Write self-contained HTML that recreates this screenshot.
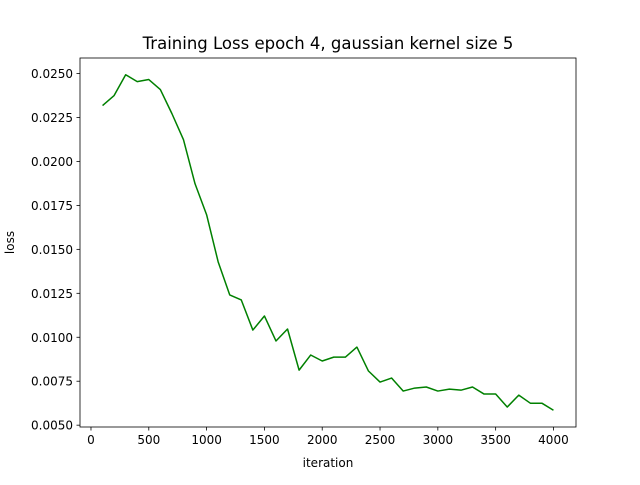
<!DOCTYPE html>
<html><head><meta charset="utf-8"><style>
body{margin:0;background:#fff;}
svg text{font-family:"DejaVu Sans","Liberation Sans",sans-serif;fill:#000;}
</style></head><body>
<svg id="chart" width="640" height="480" xmlns="http://www.w3.org/2000/svg"></svg>
<script>
const iterations=[100,200,300,400,500,600,700,800,900,1000,1100,1200,1300,1400,1500,1600,1700,1800,1900,2000,2100,2200,2300,2400,2500,2600,2700,2800,2900,3000,3100,3200,3300,3400,3500,3600,3700,3800,3900,4000];
const lossValues=[0.02318,0.02375,0.02493,0.02454,0.02466,0.02409,0.02272,0.02124,0.01873,0.01697,0.01429,0.01241,0.01212,0.01041,0.01121,0.00979,0.01047,0.00813,0.00899,0.00865,0.00887,0.00887,0.00944,0.00808,0.00745,0.00768,0.00694,0.00711,0.00717,0.00694,0.00705,0.00699,0.00717,0.00677,0.00677,0.00603,0.00671,0.00625,0.00625,0.00585];
const xTicks=[0,500,1000,1500,2000,2500,3000,3500,4000];
const yTicks=[0.005,0.0075,0.01,0.0125,0.015,0.0175,0.02,0.0225,0.025];

const svg=document.getElementById('chart');
const NS='http://www.w3.org/2000/svg';
const L=80,R=576,T=58,B=427;
const xmin=Math.min(...iterations),xmax=Math.max(...iterations),xm=(xmax-xmin)*0.05;
const ymin=Math.min(...lossValues),ymax=Math.max(...lossValues),ym=(ymax-ymin)*0.05;
const X=v=>L+(v-(xmin-xm))/((xmax+xm)-(xmin-xm))*(R-L);
const Y=v=>B-(v-(ymin-ym))/((ymax+ym)-(ymin-ym))*(B-T);
function mk(tag,attrs,parent){const e=document.createElementNS(NS,tag);for(const k in attrs)e.setAttribute(k,attrs[k]);(parent||svg).appendChild(e);return e;}

let t=mk('text',{x:(L+R)/2,y:49,'text-anchor':'middle','font-size':'16.5'});t.textContent='Training Loss epoch 4, gaussian kernel size 5';



const pts=iterations.map((v,i)=>X(v).toFixed(2)+','+Y(lossValues[i]).toFixed(2)).join(' ');
let line=mk('polyline',{points:pts,fill:'none',stroke:'#008000','stroke-width':'1.5','stroke-linejoin':'round'});



let frame=mk('rect',{x:L,y:T,width:R-L,height:B-T,fill:'none',stroke:'#000','stroke-width':'0.8'});



xTicks.forEach(v=>{
  const x=X(v);
  mk('line',{x1:x,x2:x,y1:B,y2:B+3.5,stroke:'#000','stroke-width':'0.8'});
  const tx=mk('text',{x:x,y:B+17,'text-anchor':'middle','font-size':'12'});tx.textContent=v;
  
  
});
yTicks.forEach(v=>{
  const y=Y(v);
  mk('line',{x1:L-3.5,x2:L,y1:y,y2:y,stroke:'#000','stroke-width':'0.8'});
  const ty=mk('text',{x:L-7,y:y+4.5,'text-anchor':'end','font-size':'12'});ty.textContent=v.toFixed(4);
  
  
});
let xl=mk('text',{x:(L+R)/2,y:467,'text-anchor':'middle','font-size':'12'});xl.textContent='iteration';


let yl=mk('text',{x:14,y:(T+B)/2,'text-anchor':'middle','font-size':'12',transform:'rotate(-90 14 '+((T+B)/2)+')'});yl.textContent='loss';


</script>
</body></html>
